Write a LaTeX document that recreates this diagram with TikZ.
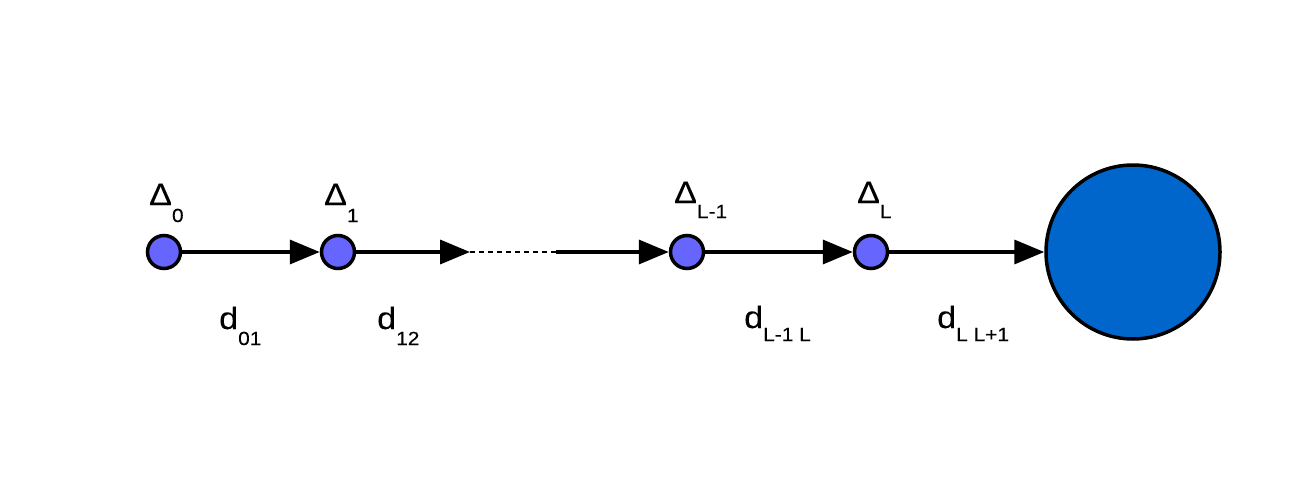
\documentclass[tikz,border=0pt]{standalone}
\usepackage{fontspec}
\setmainfont{Liberation Sans}
\newfontfamily\lblfont[FakeStretch=1.1,FakeBold=0.15]{Liberation Sans}
\usetikzlibrary{arrows.meta}
\definecolor{smallblue}{RGB}{102,102,255}
\definecolor{bigblue}{RGB}{0,102,204}
\newcommand{\lab}[3]{#1\raisebox{#3}{\fontsize{19}{22}\selectfont #2}}
\begin{document}
\begin{tikzpicture}[x=1pt,y=-1pt,
  dot/.style={circle,draw=black,line width=3.5pt,fill=smallblue,minimum size=33pt,inner sep=0pt},
  bigdot/.style={circle,draw=black,line width=3.5pt,fill=bigblue,minimum size=174pt,inner sep=0pt},
  conn/.style={line width=3.5pt,-{Triangle[length=30pt,width=24pt]}},
  dots/.style={line width=2.5pt,dash pattern=on 5pt off 4pt},
  lbl/.style={anchor=base west,inner sep=0pt,font=\lblfont\fontsize{31}{35}\selectfont}]
\useasboundingbox (0,0) rectangle (1297,503);
\node[dot] (n0) at (164,252) {};
\node[dot] (n1) at (338,252) {};
\node[dot] (nl1) at (687,252) {};
\node[dot] (nl) at (871,252) {};
\node[bigdot] (big) at (1133,252) {};
\coordinate (da) at (470,252);
\coordinate (db) at (556,252);
\draw[conn] (n0) -- (n1);
\draw[conn] (n1) -- (da);
\draw[dots] (da) -- (db);
\draw[conn] (db) -- (nl1);
\draw[conn] (nl) -- (big);
\draw[conn] (nl1) -- (nl);
\node[lbl] (t0) at (149,205) {\lab{Δ}{0}{-17pt}};
\node[lbl] (t1) at (324,205) {\lab{Δ}{1}{-17pt}};
\node[lbl] (tl1) at (674,203) {\lab{Δ}{L-1}{-15pt}};
\node[lbl] (tl) at (857,203) {\lab{Δ}{L}{-15pt}};
\node[lbl] (e01) at (219,329) {\lab{d}{01}{-16pt}};
\node[lbl] (e12) at (377,329) {\lab{d}{12}{-16pt}};
\node[lbl] (el1) at (744,328) {\lab{d}{L-1 L}{-13pt}};
\node[lbl] (el) at (937,328) {\lab{d}{L L+1}{-13pt}};
\end{tikzpicture}
\end{document}
